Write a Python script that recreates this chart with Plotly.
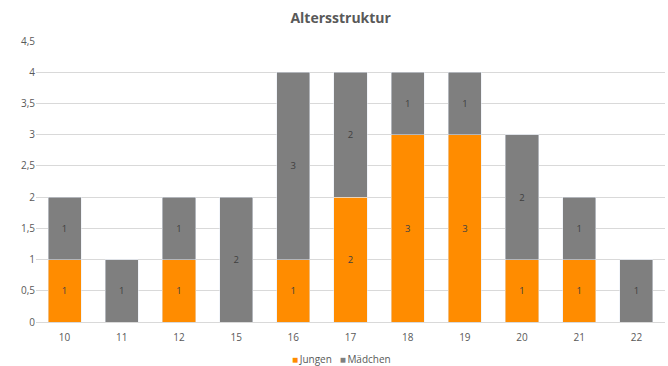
import plotly.graph_objects as go

categories = ["10", "11", "12", "15", "16", "17", "18", "19", "20", "21", "22"]
jungen = [1, 0, 1, 0, 1, 2, 3, 3, 1, 1, 0]
maedchen = [1, 1, 1, 2, 3, 2, 1, 1, 2, 1, 1]
y_ticks = [0, 0.5, 1, 1.5, 2, 2.5, 3, 3.5, 4, 4.5]
y_tick_labels = ["0", "0,5", "1", "1,5", "2", "2,5", "3", "3,5", "4", "4,5"]
series_names = ["Jungen", "Mädchen"]
series_colors = ["#FF8C00", "#7F7F7F"]

FONT = "Open Sans"
lab_j = [str(v) if v else "" for v in jungen]
lab_m = [str(v) if v else "" for v in maedchen]

fig = go.Figure()
for vals, labs, name, col in [(jungen, lab_j, series_names[0], series_colors[0]),
                              (maedchen, lab_m, series_names[1], series_colors[1])]:
    fig.add_trace(go.Bar(x=categories, y=vals, name=name, marker_color=col,
                         text=labs, textposition="inside", insidetextanchor="middle",
                         textfont=dict(color="#404040", size=9.5, family=FONT),
                         showlegend=False))

legend_text = "   ".join(
    f"<span style='color:{c}'>■</span>\u2009<span style='color:#595959'>{n}</span>"
    for n, c in zip(series_names, series_colors))

fig.update_layout(
    barmode="stack",
    bargap=0.42,
    width=668, height=366,
    margin=dict(l=36, r=3, t=41, b=44),
    paper_bgcolor="white", plot_bgcolor="white",
    font=dict(family=FONT, color="#595959", size=10),
    title=dict(text="<b>Altersstruktur</b>", x=0.51, xanchor="center", y=0.95, yanchor="middle",
               font=dict(size=14, color="#595959", family=FONT)),
    showlegend=False,
    annotations=[dict(text=legend_text, xref="paper", yref="paper", x=0.485, y=-0.13,
                      xanchor="center", yanchor="middle", showarrow=False,
                      font=dict(size=10, family=FONT))],
    uniformtext=dict(minsize=8, mode="show"),
)
fig.update_xaxes(type="category", showgrid=False, showline=True, linecolor="#D9D9D9",
                 ticks="", ticklabelstandoff=6, tickfont=dict(size=10, color="#595959"))
fig.update_yaxes(range=[0, 4.5], tickvals=y_ticks, ticktext=y_tick_labels,
                 showgrid=True, gridcolor="#D9D9D9", zeroline=False, showline=False,
                 ticks="", tickfont=dict(size=10, color="#595959"))

fig.write_html("out.html")
